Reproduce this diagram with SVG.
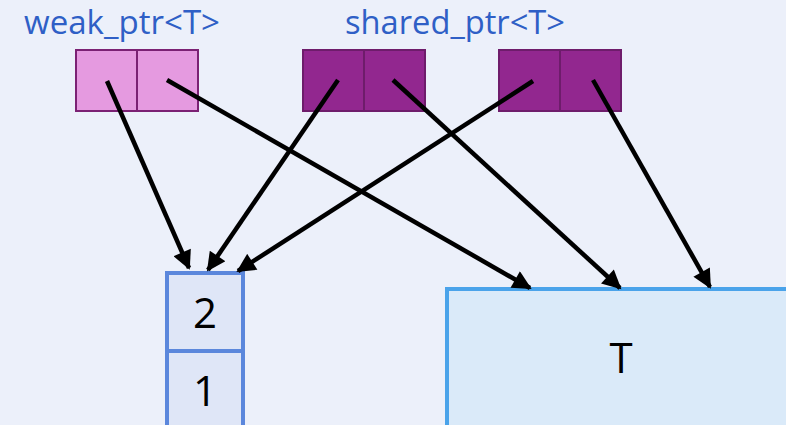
<svg xmlns="http://www.w3.org/2000/svg" width="786" height="425" viewBox="0 0 786 425">
  <style>
    .lbl { font-family: "Open Sans", "Noto Sans", sans-serif; font-size: 32px; fill: #2f5fc6; }
    .num { font-family: "Open Sans", "Noto Sans", sans-serif; font-size: 42px; fill: #000; text-anchor: middle; }
    .weak { fill: #e59ae0; stroke: #7b2174; stroke-width: 2; }
    .shared { fill: #92278f; stroke: #6e1c6b; stroke-width: 2; }
    .count { fill: #dfe6f7; stroke: #5b87dc; stroke-width: 4; }
    .obj { fill: #daeaf9; stroke: #4aa3ea; stroke-width: 4; }
    .arrow { stroke: #000; stroke-width: 4.5; fill: none; marker-end: url(#head); }
  </style>
  <defs>
    <marker id="head" viewBox="0 0 10 10" refX="9" refY="5" markerWidth="4.6" markerHeight="4.2" markerUnits="strokeWidth" orient="auto">
      <path d="M0,0 L10,5 L0,10 Z" fill="#000"/>
    </marker>
  </defs>
  <rect width="786" height="425" fill="#ecf0fa"/>

  <text class="lbl" x="24" y="34" textLength="196" lengthAdjust="spacingAndGlyphs">weak_ptr&lt;T&gt;</text>
  <text class="lbl" x="345" y="34" textLength="220" lengthAdjust="spacingAndGlyphs">shared_ptr&lt;T&gt;</text>

  <g id="weak-ptr">
    <rect class="weak" x="76" y="50" width="61" height="61"/>
    <rect class="weak" x="137" y="50" width="61" height="61"/>
  </g>
  <g id="shared-ptr-1">
    <rect class="shared" x="303" y="50" width="61" height="61"/>
    <rect class="shared" x="364" y="50" width="61" height="61"/>
  </g>
  <g id="shared-ptr-2">
    <rect class="shared" x="499" y="50" width="61" height="61"/>
    <rect class="shared" x="560" y="50" width="61" height="61"/>
  </g>

  <g id="control-block">
    <rect class="count" x="167" y="273" width="76" height="78"/>
    <rect class="count" x="167" y="351" width="76" height="80"/>
    <text class="num" x="205" y="328">2</text>
    <text class="num" x="205" y="406">1</text>
  </g>

  <g id="object">
    <rect class="obj" x="447" y="289" width="345" height="145"/>
    <text class="num" x="621" y="373">T</text>
  </g>

  <g id="connectors">
    <line class="arrow" x1="107" y1="81" x2="189" y2="268"/>
    <line class="arrow" x1="167" y1="80" x2="530" y2="288"/>
    <line class="arrow" x1="338" y1="80" x2="208" y2="270"/>
    <line class="arrow" x1="393" y1="80" x2="620" y2="288"/>
    <line class="arrow" x1="533" y1="81" x2="238" y2="271"/>
    <line class="arrow" x1="593" y1="80" x2="710" y2="287"/>
  </g>
</svg>
